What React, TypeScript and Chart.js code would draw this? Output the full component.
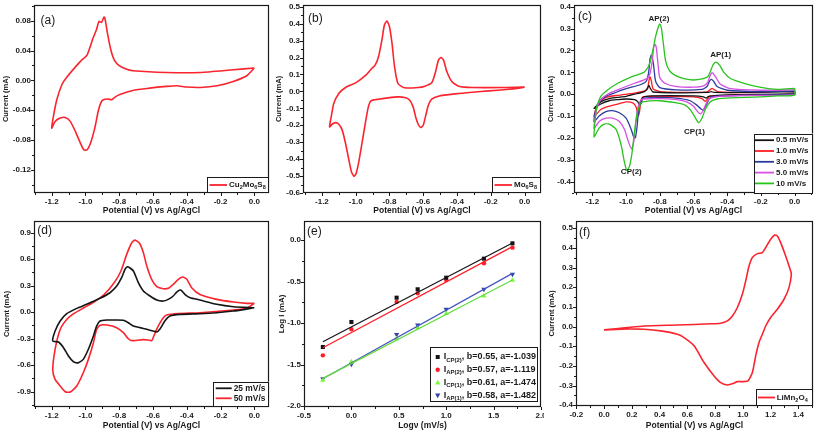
import React, { useEffect, useRef } from "react";
import { Chart, registerables } from "chart.js";
Chart.register(...registerables);

const FAM = "'Liberation Sans', Arial, Helvetica, sans-serif";
const INK = "#1a1a1a";
const RED = "rgb(250,36,46)";
const C_BLACK = "#151515";
const C_RED = "rgb(255,28,36)";
const C_BLUE = "rgb(43,60,158)";
const C_MAG = "rgb(214,80,226)";
const C_GREEN = "rgb(40,196,30)";

// ---------------- data ----------------
// (a) Cu2Mo6S8
const aV = [0, -0.125, -0.32, -0.52, -0.72, -0.76, -0.8, -0.83, -0.85, -0.87,
  -0.885, -0.89, -0.905, -0.92, -0.935, -0.955, -0.99, -1.03, -1.11, -1.14,
  -1.17, -1.19, -1.2, -1.18, -1.15, -1.12, -1.09, -1.06, -1.03, -1.01,
  -0.99, -0.97, -0.945, -0.925, -0.91, -0.895, -0.865, -0.845, -0.825, -0.8,
  -0.72, -0.62, -0.52, -0.46, -0.4, -0.32, -0.22, -0.125, -0.045, 0];
const aI = [0.0165, 0.0142, 0.0106, 0.0106, 0.0129, 0.0151, 0.0196, 0.0276, 0.041, 0.0634,
  0.0835, 0.0848, 0.0777, 0.079, 0.0679, 0.0567, 0.0343, 0.0254, 0.0044, -0.0059,
  -0.026, -0.0483, -0.064, -0.0551, -0.0506, -0.0497, -0.055, -0.0685, -0.0841, -0.0931,
  -0.0931, -0.0841, -0.064, -0.0417, -0.0305, -0.026, -0.0251, -0.026, -0.0224, -0.0193,
  -0.0135, -0.0104, -0.0081, -0.0072, -0.009, -0.0095, -0.0072, -0.0014, 0.0062, 0.0165];

// (b) Mo6S8
const bV = [0, -0.11, -0.31, -0.39, -0.43, -0.46, -0.48, -0.495, -0.51, -0.53,
  -0.55, -0.59, -0.63, -0.71, -0.75, -0.77, -0.785, -0.8, -0.815, -0.83,
  -0.845, -0.865, -0.885, -0.905, -0.94, -1.0, -1.06, -1.1, -1.13, -1.145,
  -1.155, -1.14, -1.12, -1.1, -1.08, -1.06, -1.04, -1.025, -1.01, -0.998,
  -0.98, -0.96, -0.94, -0.925, -0.91, -0.865, -0.81, -0.75, -0.71, -0.68,
  -0.66, -0.645, -0.63, -0.615, -0.6, -0.585, -0.57, -0.55, -0.51, -0.41,
  -0.31, -0.21, -0.11, -0.035, 0];
const bI = [0.025, 0.0229, 0.0229, 0.0308, 0.0564, 0.1156, 0.1846, 0.2004, 0.1846, 0.1057,
  0.0505, 0.0308, 0.0229, 0.0209, 0.0465, 0.1451, 0.2832, 0.3818, 0.4153, 0.3917,
  0.3029, 0.2043, 0.155, 0.1353, 0.0958, 0.0505, 0.0229, -0.0126, -0.0718, -0.1507,
  -0.2099, -0.194, -0.1842, -0.194, -0.2288, -0.3077, -0.407, -0.476, -0.5017, -0.4859,
  -0.407, -0.2887, -0.1704, -0.0915, -0.056, -0.0461, -0.0383, -0.0323, -0.0363, -0.052,
  -0.0915, -0.1507, -0.194, -0.2138, -0.1999, -0.141, -0.0816, -0.0461, -0.0284, -0.0146,
  -0.0047, 0.0032, 0.011, 0.0189, 0.025];

// (c) scan-rate series
const cGreenV = [0, -0.1, -0.2, -0.3, -0.38, -0.42, -0.445, -0.468, -0.485, -0.5,
  -0.515, -0.55, -0.6, -0.65, -0.7, -0.74, -0.765, -0.78, -0.79, -0.8,
  -0.81, -0.825, -0.845, -0.865, -0.895, -0.975, -1.05, -1.11, -1.15, -1.175,
  -1.19, -1.16, -1.13, -1.1, -1.06, -1.03, -1.01, -0.996, -0.98, -0.965,
  -0.95, -0.935, -0.915, -0.9, -0.8, -0.7, -0.65, -0.62, -0.595, -0.57,
  -0.55, -0.53, -0.5, -0.46, -0.38, -0.2, -0.1, 0, 0];
const cGreenI = [0.027, 0.022, 0.031, 0.05, 0.072, 0.1, 0.133, 0.147, 0.133, 0.103,
  0.08, 0.07, 0.065, 0.07, 0.083, 0.105, 0.15, 0.24, 0.3, 0.321,
  0.305, 0.263, 0.187, 0.13, 0.1, 0.077, 0.05, 0.019, -0.01, -0.06,
  -0.195, -0.155, -0.137, -0.137, -0.16, -0.23, -0.31, -0.348, -0.33, -0.27,
  -0.17, -0.09, -0.045, -0.035, -0.03, -0.04, -0.05, -0.07, -0.1, -0.13,
  -0.11, -0.07, -0.035, -0.022, -0.017, -0.012, -0.008, -0.004, 0.027];
const cMagV = [0, -0.2, -0.38, -0.44, -0.47, -0.488, -0.5, -0.515, -0.54, -0.6,
  -0.7, -0.77, -0.8, -0.812, -0.82, -0.828, -0.836, -0.845, -0.86, -0.88,
  -0.95, -1.05, -1.11, -1.15, -1.175, -1.19, -1.16, -1.12, -1.08, -1.04,
  -1.01, -0.985, -0.968, -0.955, -0.945, -0.932, -0.915, -0.9, -0.8, -0.7,
  -0.64, -0.6, -0.575, -0.557, -0.54, -0.52, -0.5, -0.45, -0.3, 0, 0];
const cMagI = [0.02, 0.018, 0.025, 0.045, 0.08, 0.098, 0.088, 0.055, 0.038, 0.032,
  0.035, 0.05, 0.075, 0.15, 0.21, 0.228, 0.215, 0.15, 0.09, 0.07,
  0.05, 0.02, 0.0, -0.025, -0.07, -0.156, -0.125, -0.11, -0.11, -0.125,
  -0.16, -0.22, -0.25, -0.22, -0.15, -0.07, -0.03, -0.022, -0.02, -0.025,
  -0.035, -0.055, -0.08, -0.09, -0.07, -0.035, -0.018, -0.01, -0.006, -0.002, 0.02];
const cBluV = [0, -0.2, -0.4, -0.46, -0.48, -0.492, -0.505, -0.52, -0.55, -0.7,
  -0.8, -0.825, -0.838, -0.85, -0.858, -0.866, -0.88, -0.92, -1.0, -1.07,
  -1.12, -1.16, -1.18, -1.19, -1.16, -1.12, -1.08, -1.04, -1.0, -0.97,
  -0.955, -0.945, -0.935, -0.925, -0.91, -0.89, -0.8, -0.7, -0.62, -0.58,
  -0.555, -0.54, -0.525, -0.505, -0.48, -0.3, 0, 0];
const cBluI = [0.015, 0.012, 0.018, 0.035, 0.058, 0.068, 0.06, 0.035, 0.022, 0.02,
  0.03, 0.06, 0.14, 0.179, 0.16, 0.1, 0.06, 0.042, 0.025, 0.005,
  -0.01, -0.035, -0.07, -0.126, -0.1, -0.08, -0.075, -0.085, -0.11, -0.16,
  -0.195, -0.2, -0.15, -0.07, -0.028, -0.018, -0.015, -0.018, -0.03, -0.05,
  -0.068, -0.072, -0.05, -0.02, -0.01, -0.005, 0.0, 0.015];
const cRedV = [0, -0.1, -0.2, -0.45, -0.48, -0.49, -0.5, -0.52, -0.6, -0.8,
  -0.84, -0.85, -0.858, -0.865, -0.872, -0.89, -0.95, -1.05, -1.12, -1.16,
  -1.18, -1.19, -1.15, -1.1, -1.05, -1.0, -0.96, -0.94, -0.928, -0.92,
  -0.912, -0.9, -0.8, -0.6, -0.55, -0.53, -0.515, -0.5, -0.3, 0, 0];
const cRedI = [0.01, 0.015, 0.008, 0.01, 0.022, 0.027, 0.022, 0.01, 0.008, 0.012,
  0.025, 0.06, 0.08, 0.06, 0.025, 0.015, 0.005, -0.005, -0.015, -0.04,
  -0.07, -0.103, -0.07, -0.055, -0.045, -0.035, -0.04, -0.06, -0.1, -0.08,
  -0.03, -0.012, -0.01, -0.012, -0.02, -0.033, -0.02, -0.008, -0.004, 0.0, 0.01];
const cBlkV = [0, -0.3, -0.48, -0.495, -0.51, -0.7, -0.84, -0.855, -0.865, -0.875,
  -0.89, -0.95, -1.0, -1.05, -1.1, -1.15, -1.19, -1.15, -1.1, -1.05,
  -1.0, -0.95, -0.93, -0.92, -0.91, -0.9, -0.85, -0.6, -0.54, -0.525,
  -0.51, -0.4, 0, 0];
const cBlkI = [0.012, 0.008, 0.008, 0.012, 0.008, 0.006, 0.01, 0.025, 0.04, 0.025,
  0.012, 0.0, -0.01, -0.015, -0.02, -0.035, -0.065, -0.045, -0.03, -0.025,
  -0.022, -0.025, -0.035, -0.052, -0.04, -0.015, -0.008, -0.008, -0.012, -0.018,
  -0.01, -0.003, 0.002, 0.012];
const cNoteText = ["AP(2)", "AP(1)", "CP(1)", "CP(2)"];
const cNoteV = [-0.805, -0.439, -0.594, -0.969];
const cNoteI = [0.347, 0.179, -0.171, -0.357];

// (d) 25 / 50 mV/s
const dRedV = [0, -0.046, -0.124, -0.223, -0.322, -0.371, -0.4, -0.424, -0.45, -0.48,
  -0.51, -0.539, -0.578, -0.608, -0.637, -0.657, -0.68, -0.707, -0.726, -0.756,
  -0.79, -0.83, -0.89, -0.95, -1.01, -1.07, -1.11, -1.15, -1.18, -1.194,
  -1.18, -1.15, -1.12, -1.09, -1.052, -1.013, -0.983, -0.953, -0.934, -0.914,
  -0.874, -0.815, -0.776, -0.746, -0.73, -0.7, -0.66, -0.63, -0.608, -0.595,
  -0.58, -0.558, -0.539, -0.519, -0.45, -0.322, -0.124, -0.046, 0];
const dRedI = [0.1, 0.1, 0.115, 0.145, 0.2, 0.277, 0.372, 0.398, 0.372, 0.315,
  0.27, 0.266, 0.289, 0.372, 0.523, 0.673, 0.78, 0.816, 0.786, 0.654,
  0.466, 0.334, 0.2, 0.115, 0.05, -0.017, -0.08, -0.195, -0.42, -0.655,
  -0.76, -0.836, -0.9, -0.904, -0.836, -0.685, -0.534, -0.345, -0.195, -0.149,
  -0.145, -0.175, -0.232, -0.3, -0.32, -0.32, -0.31, -0.315, -0.322, -0.27,
  -0.2, -0.119, -0.062, -0.032, -0.015, -0.006, 0.025, 0.045, 0.1];
const dBlkV = [0, -0.124, -0.223, -0.322, -0.38, -0.41, -0.436, -0.46, -0.48, -0.51,
  -0.54, -0.578, -0.618, -0.657, -0.687, -0.716, -0.736, -0.752, -0.766, -0.786,
  -0.815, -0.855, -0.914, -0.993, -1.052, -1.111, -1.15, -1.18, -1.194,
  -1.16, -1.13, -1.101, -1.072, -1.056, -1.042, -1.013, -0.983, -0.953, -0.934,
  -0.914, -0.874, -0.815, -0.776, -0.746, -0.716, -0.677, -0.637, -0.6, -0.578,
  -0.56, -0.53, -0.5, -0.44, -0.322, -0.223, -0.124, 0];
const dBlkI = [0.05, 0.062, 0.089, 0.138, 0.164, 0.2, 0.25, 0.228, 0.183, 0.145,
  0.126, 0.138, 0.183, 0.24, 0.334, 0.466, 0.5, 0.515, 0.485, 0.39,
  0.296, 0.22, 0.157, 0.089, 0.043, -0.017, -0.1, -0.213, -0.327,
  -0.338, -0.402, -0.496, -0.56, -0.572, -0.572, -0.534, -0.42, -0.27, -0.157,
  -0.1, -0.089, -0.089, -0.092, -0.119, -0.157, -0.175, -0.194, -0.213, -0.225,
  -0.194, -0.1, -0.043, -0.025, -0.017, -0.006, 0.013, 0.05];

// (e) log I vs log v
const eLogV = [-0.301, 0, 0.477, 0.699, 1, 1.398, 1.699];
const eCP2 = [-1.289, -0.988, -0.695, -0.594, -0.454, -0.225, -0.04];
const eAP2 = [-1.39, -1.076, -0.747, -0.643, -0.482, -0.281, -0.092];
const eCP1 = [-1.691, -1.466, -1.189, -1.056, -0.884, -0.675, -0.486];
const eAP1 = [-1.671, -1.498, -1.137, -1.024, -0.835, -0.594, -0.414];
const eFitX = [-0.301, 1.699];
const eFitCP2 = [-1.225, -0.035];
const eFitAP2 = [-1.297, -0.08];
const eFitCP1 = [-1.667, -0.482];
const eFitAP1 = [-1.671, -0.402];

// (f) LiMn2O4
const fV = [0, 0.168, 0.288, 0.529, 0.769, 0.841, 0.889, 0.925, 0.961, 0.997,
  1.021, 1.045, 1.069, 1.105, 1.141, 1.165, 1.201, 1.23, 1.249, 1.273,
  1.309, 1.341, 1.35, 1.333, 1.297, 1.249, 1.201, 1.165, 1.141, 1.117,
  1.093, 1.069, 1.038, 1.0, 0.96, 0.93, 0.889, 0.841, 0.793, 0.721,
  0.649, 0.577, 0.529, 0.408, 0.288, 0.168, 0];
const fI = [-0.017, -0.005, 0.003, 0.008, 0.014, 0.017, 0.029, 0.054, 0.097, 0.164,
  0.232, 0.308, 0.351, 0.371, 0.376, 0.402, 0.444, 0.466, 0.461, 0.427,
  0.359, 0.292, 0.266, 0.198, 0.139, 0.088, 0.046, 0.003, -0.039, -0.081,
  -0.149, -0.234, -0.276, -0.28, -0.28, -0.29, -0.297, -0.285, -0.251, -0.183,
  -0.098, -0.056, -0.039, -0.022, -0.014, -0.012, -0.017];

// tick values
const cvXTicks = [-1.2, -1.0, -0.8, -0.6, -0.4, -0.2, 0.0];
const aYTicks = [-0.12, -0.08, -0.04, 0, 0.04, 0.08];
const bYTicks = [-0.6, -0.5, -0.4, -0.3, -0.2, -0.1, 0, 0.1, 0.2, 0.3, 0.4, 0.5];
const cYTicks = [-0.4, -0.3, -0.2, -0.1, 0, 0.1, 0.2, 0.3, 0.4];
const dYTicks = [-0.9, -0.6, -0.3, 0, 0.3, 0.6, 0.9];
const eXTicks = [-0.5, 0, 0.5, 1.0, 1.5, 2.0];
const eYTicks = [-2.0, -1.5, -1.0, -0.5, 0];
const fXTicks = [-0.2, 0, 0.2, 0.4, 0.6, 0.8, 1.0, 1.2, 1.4];
const fYTicks = [-0.4, -0.3, -0.2, -0.1, 0, 0.1, 0.2, 0.3, 0.4, 0.5];

const X_CV = "Potential (V) vs Ag/AgCl";
const Y_CV = "Current (mA)";

// ---------------- helpers ----------------
type Seg = { t: string; sub?: boolean };
type LegItem = { segs: Seg[]; color: string; kind: string };
type LegSpec = {
  items: LegItem[]; size: number; subSize: number; rowH: number; firstRow: number;
  boxH: number; offR: number; offB: number; sx0: number; sx1: number; tx: number; padR: number;
};
type Decor = {
  label: string; ldx: number; ldy: number;
  legend: LegSpec;
  notes?: { text: string[]; x: number[]; y: number[] };
};

const zip = (xs: number[], ys: number[]) => xs.map((x, i) => ({ x, y: ys[i] }));

function richWidth(ctx: CanvasRenderingContext2D, segs: Seg[], size: number, sub: number) {
  let w = 0;
  for (const s of segs) {
    ctx.font = `bold ${s.sub ? sub : size}px ${FAM}`;
    w += ctx.measureText(s.t).width;
  }
  return w;
}
function drawRich(ctx: CanvasRenderingContext2D, segs: Seg[], x: number, y: number, size: number, sub: number) {
  ctx.textAlign = "left";
  ctx.textBaseline = "middle";
  for (const s of segs) {
    ctx.font = `bold ${s.sub ? sub : size}px ${FAM}`;
    ctx.fillText(s.t, x, s.sub ? y + size * 0.32 : y);
    x += ctx.measureText(s.t).width;
  }
}
function drawMarker(ctx: CanvasRenderingContext2D, kind: string, x: number, y: number, color: string) {
  ctx.fillStyle = color;
  ctx.beginPath();
  if (kind === "rect") ctx.rect(x - 2, y - 2, 4, 4);
  else if (kind === "circle") ctx.arc(x, y, 2.2, 0, Math.PI * 2);
  else if (kind === "tri") { ctx.moveTo(x, y - 2.8); ctx.lineTo(x + 2.6, y + 1.8); ctx.lineTo(x - 2.6, y + 1.8); ctx.closePath(); }
  else if (kind === "dtri") { ctx.moveTo(x, y + 2.8); ctx.lineTo(x + 2.6, y - 1.8); ctx.lineTo(x - 2.6, y - 1.8); ctx.closePath(); }
  ctx.fill();
}

function minorOf(ticks: number[], min: number, max: number) {
  const out: number[] = [];
  for (let i = 0; i < ticks.length - 1; i++) out.push((ticks[i] + ticks[i + 1]) / 2);
  const st = ticks[1] - ticks[0];
  const lo = ticks[0] - st / 2, hi = ticks[ticks.length - 1] + st / 2;
  if (lo >= min) out.push(lo);
  if (hi <= max) out.push(hi);
  return out;
}

function makeDecor(d: Decor) {
  return {
    id: "decor",
    afterDraw(chart: any) {
      const { ctx, chartArea: ca, scales } = chart;
      const L = Math.round(ca.left), R = Math.round(ca.right), T = Math.round(ca.top), B = Math.round(ca.bottom);
      ctx.save();
      ctx.strokeStyle = INK;
      ctx.lineWidth = 1;
      const xs = scales.x, ys = scales.y;
      const xt = xs.ticks.map((t: any) => t.value), yt = ys.ticks.map((t: any) => t.value);
      const tick = (vals: number[], len: number, horiz: boolean) => {
        for (const v of vals) {
          ctx.beginPath();
          if (horiz) {
            const p = Math.round(xs.getPixelForValue(v)) + 0.5;
            ctx.moveTo(p, B); ctx.lineTo(p, B + len);
          } else {
            const p = Math.round(ys.getPixelForValue(v)) + 0.5;
            ctx.moveTo(L, p); ctx.lineTo(L - len, p);
          }
          ctx.stroke();
        }
      };
      tick(xt, 3, true);
      tick(minorOf(xt, xs.min, xs.max), 2, true);
      tick(yt, 3, false);
      tick(minorOf(yt, ys.min, ys.max), 2, false);
      // frame
      ctx.lineWidth = 1.2;
      ctx.strokeRect(L + 0.5, T + 0.5, R - L - 1, B - T - 1);
      ctx.lineWidth = 1;
      // panel label
      ctx.fillStyle = INK;
      ctx.font = `12px ${FAM}`;
      ctx.textAlign = "left";
      ctx.textBaseline = "middle";
      ctx.fillText(d.label, L + d.ldx, T + d.ldy);
      // notes
      if (d.notes) {
        ctx.font = `bold 8px ${FAM}`;
        ctx.textAlign = "center";
        d.notes.text.forEach((t, i) => {
          ctx.fillText(t, xs.getPixelForValue(d.notes!.x[i]), ys.getPixelForValue(d.notes!.y[i]));
        });
      }
      // legend
      const lg = d.legend;
      let tw = 0;
      for (const it of lg.items) tw = Math.max(tw, richWidth(ctx, it.segs, lg.size, lg.subSize));
      const bw = Math.round(lg.tx + tw + lg.padR);
      const bx = R - lg.offR - bw, by = B - lg.offB - lg.boxH;
      ctx.fillStyle = "#fff";
      ctx.fillRect(bx, by, bw, lg.boxH);
      ctx.strokeStyle = INK;
      ctx.strokeRect(Math.round(bx) + 0.5, Math.round(by) + 0.5, bw - 1, Math.round(lg.boxH) - 1);
      lg.items.forEach((it, i) => {
        const cy = by + lg.firstRow + i * lg.rowH;
        if (it.kind === "line") {
          ctx.strokeStyle = it.color;
          ctx.lineWidth = 1.8;
          ctx.beginPath();
          ctx.moveTo(bx + lg.sx0, cy); ctx.lineTo(bx + lg.sx1, cy);
          ctx.stroke();
        } else {
          drawMarker(ctx, it.kind, bx + lg.sx0, cy, it.color);
        }
        ctx.fillStyle = INK;
        drawRich(ctx, it.segs, bx + lg.tx, cy, lg.size, lg.subSize);
      });
      ctx.restore();
    },
  };
}

type AxisSpec = { min: number; max: number; ticks: number[]; dec: number; title: string; tsize: number; tpad: number };
function buildAxis(a: AxisSpec, horizontal: boolean, size: number) {
  return {
    type: "linear",
    position: horizontal ? "bottom" : "left",
    min: a.min,
    max: a.max,
    afterBuildTicks: (s: any) => { s.ticks = a.ticks.map((value) => ({ value })); },
    afterFit: (s: any) => {
      if (horizontal) s.height = size; else s.width = size;
      s.paddingLeft = 0; s.paddingRight = 0; s.paddingTop = 0; s.paddingBottom = 0;
    },
    grid: { display: false, drawTicks: false },
    border: { display: false },
    ticks: {
      autoSkip: false, maxRotation: 0, minRotation: 0,
      padding: horizontal ? 4 : 3,
      color: INK,
      font: { family: FAM, size: 8, weight: "bold" },
      callback: (v: any) => Number(v).toFixed(a.dec),
    },
    title: {
      display: true, text: a.title, color: INK,
      font: { family: FAM, size: a.tsize, weight: "bold" },
      padding: horizontal ? { top: 0, bottom: a.tpad } : { top: a.tpad, bottom: 0 },
    },
  };
}

type PanelSpec = {
  box: number[]; yW: number; xH: number; padR: number; padT: number;
  x: AxisSpec; y: AxisSpec; datasets: any[]; decor: Decor;
};

function cvLine(xs: number[], ys: number[], color: string, w = 1.6) {
  return {
    data: zip(xs, ys), showLine: true, borderColor: color, backgroundColor: color,
    borderWidth: w, pointRadius: 0, tension: 0.2, borderJoinStyle: "round",
  };
}

const leg1 = (segs: Seg[], color: string, padR: number): LegSpec => ({
  items: [{ segs, color, kind: "line" }], size: 8, subSize: 5.5, rowH: 0, firstRow: 8,
  boxH: 16, offR: 0, offB: 0, sx0: 2.5, sx1: 20, tx: 22, padR,
});

const panels: PanelSpec[] = [
  {
    box: [0, 0, 272, 216], yW: 34, xH: 23, padR: 3, padT: 5,
    x: { min: -1.305, max: 0.087, ticks: cvXTicks, dec: 1, title: X_CV, tsize: 8.5, tpad: 0 },
    y: { min: -0.151, max: 0.101, ticks: aYTicks, dec: 2, title: Y_CV, tsize: 7.5, tpad: 1 },
    datasets: [cvLine(aV, aI, RED)],
    decor: {
      label: "(a)", ldx: 6.5, ldy: 16,
      legend: leg1([{ t: "Cu" }, { t: "2", sub: true }, { t: "Mo" }, { t: "6", sub: true }, { t: "S" }, { t: "8", sub: true }], RED, 3),
    },
  },
  {
    box: [272, 0, 272, 216], yW: 31, xH: 23, padR: 3, padT: 5,
    x: { min: -1.312, max: 0.097, ticks: cvXTicks, dec: 1, title: X_CV, tsize: 8.5, tpad: 0 },
    y: { min: -0.6, max: 0.51, ticks: bYTicks, dec: 1, title: Y_CV, tsize: 7.5, tpad: 2 },
    datasets: [cvLine(bV, bI, RED)],
    decor: {
      label: "(b)", ldx: 5, ldy: 14,
      legend: leg1([{ t: "Mo" }, { t: "6", sub: true }, { t: "S" }, { t: "8", sub: true }], RED, 4),
    },
  },
  {
    box: [544, 0, 273, 216], yW: 30, xH: 23, padR: 4, padT: 5,
    x: { min: -1.309, max: 0.109, ticks: cvXTicks, dec: 1, title: X_CV, tsize: 8.5, tpad: 0 },
    y: { min: -0.452, max: 0.408, ticks: cYTicks, dec: 1, title: Y_CV, tsize: 7.5, tpad: 2 },
    datasets: [
      cvLine(cGreenV, cGreenI, C_GREEN, 1.3),
      cvLine(cMagV, cMagI, C_MAG, 1.3),
      cvLine(cBluV, cBluI, C_BLUE, 1.3),
      cvLine(cBlkV, cBlkI, C_BLACK, 1.3),
      cvLine(cRedV, cRedI, C_RED, 1.3),
    ],
    decor: {
      label: "(c)", ldx: 4, ldy: 11.5,
      notes: { text: cNoteText, x: cNoteV, y: cNoteI },
      legend: {
        items: [
          { segs: [{ t: "0.5 mV/s" }], color: C_BLACK, kind: "line" },
          { segs: [{ t: "1.0 mV/s" }], color: C_RED, kind: "line" },
          { segs: [{ t: "3.0 mV/s" }], color: C_BLUE, kind: "line" },
          { segs: [{ t: "5.0 mV/s" }], color: C_MAG, kind: "line" },
          { segs: [{ t: "10 mV/s" }], color: C_GREEN, kind: "line" },
        ],
        size: 8, subSize: 5.5, rowH: 10.8, firstRow: 6.7, boxH: 59.5,
        offR: 0, offB: 0, sx0: 1, sx1: 20, tx: 22, padR: 5,
      },
    },
  },
  {
    box: [0, 216, 272, 217], yW: 34, xH: 26, padR: 3, padT: 5,
    x: { min: -1.305, max: 0.087, ticks: cvXTicks, dec: 1, title: X_CV, tsize: 8.5, tpad: 2.6 },
    y: { min: -1.073, max: 1.032, ticks: dYTicks, dec: 1, title: Y_CV, tsize: 7.5, tpad: 2 },
    datasets: [cvLine(dBlkV, dBlkI, C_BLACK), cvLine(dRedV, dRedI, RED)],
    decor: {
      label: "(d)", ldx: 3.3, ldy: 10,
      legend: {
        items: [
          { segs: [{ t: "25 mV/s" }], color: C_BLACK, kind: "line" },
          { segs: [{ t: "50 mV/s" }], color: RED, kind: "line" },
        ],
        size: 8.4, subSize: 5.5, rowH: 10, firstRow: 6.6, boxH: 25.3,
        offR: 0, offB: 0, sx0: 2.7, sx1: 18.7, tx: 20.7, padR: 4,
      },
    },
  },
  {
    box: [272, 216, 272, 217], yW: 32, xH: 26, padR: 3, padT: 5,
    x: { min: -0.5, max: 2.0, ticks: eXTicks, dec: 1, title: "Log\u03bd (mV/s)", tsize: 8.5, tpad: 2.6 },
    y: { min: -2.012, max: 0.229, ticks: eYTicks, dec: 1, title: "Log I (mA)", tsize: 7.8, tpad: 5.3 },
    datasets: [
      { data: zip(eFitX, eFitCP2), showLine: true, borderColor: C_BLACK, borderWidth: 1.2, pointRadius: 0 },
      { data: zip(eFitX, eFitAP2), showLine: true, borderColor: C_RED, borderWidth: 1.2, pointRadius: 0 },
      { data: zip(eFitX, eFitCP1), showLine: true, borderColor: "rgb(100,220,60)", borderWidth: 1.2, pointRadius: 0 },
      { data: zip(eFitX, eFitAP1), showLine: true, borderColor: "rgb(70,84,190)", borderWidth: 1.2, pointRadius: 0 },
      { data: zip(eLogV, eCP2), pointStyle: "rect", pointRadius: 2.9, backgroundColor: C_BLACK, borderWidth: 0 },
      { data: zip(eLogV, eAP2), pointStyle: "circle", pointRadius: 2.2, backgroundColor: C_RED, borderWidth: 0 },
      { data: zip(eLogV, eCP1), pointStyle: "triangle", pointRadius: 3, backgroundColor: "rgb(120,250,60)", borderWidth: 0 },
      { data: zip(eLogV, eAP1), pointStyle: "triangle", pointRotation: 180, pointRadius: 3, backgroundColor: "rgb(50,64,170)", borderWidth: 0 },
    ],
    decor: {
      label: "(e)", ldx: 3, ldy: 11,
      legend: {
        items: [
          { segs: [{ t: "I" }, { t: "CP(2)", sub: true }, { t: ", b=0.55, a=-1.039" }], color: C_BLACK, kind: "rect" },
          { segs: [{ t: "I" }, { t: "AP(2)", sub: true }, { t: ", b=0.57, a=-1.119" }], color: C_RED, kind: "circle" },
          { segs: [{ t: "I" }, { t: "CP(1)", sub: true }, { t: ", b=0.61, a=-1.474" }], color: "rgb(120,250,60)", kind: "tri" },
          { segs: [{ t: "I" }, { t: "AP(1)", sub: true }, { t: ", b=0.58, a=-1.482" }], color: "rgb(50,64,170)", kind: "dtri" },
        ],
        size: 9, subSize: 6, rowH: 12.8, firstRow: 10, boxH: 55,
        offR: 2.7, offB: 5, sx0: 7.4, sx1: 7.4, tx: 13.4, padR: 2,
      },
    },
  },
  {
    box: [544, 216, 273, 217], yW: 32, xH: 27, padR: 4, padT: 5,
    x: { min: -0.202, max: 1.506, ticks: fXTicks, dec: 1, title: X_CV, tsize: 8.5, tpad: 2.6 },
    y: { min: -0.404, max: 0.537, ticks: fYTicks, dec: 1, title: Y_CV, tsize: 7.5, tpad: 3 },
    datasets: [cvLine(fV, fI, RED)],
    decor: {
      label: "(f)", ldx: 3, ldy: 11.7,
      legend: { ...leg1([{ t: "LiMn" }, { t: "2", sub: true }, { t: "O" }, { t: "4", sub: true }], RED, 5), boxH: 17, sx0: 2, sx1: 19, tx: 20.7, firstRow: 8.5 },
    },
  },
];

function makeConfig(p: PanelSpec): any {
  return {
    type: "scatter",
    data: { datasets: p.datasets },
    options: {
      responsive: false,
      animation: false,
      devicePixelRatio: 1,
      events: [],
      layout: { padding: { left: 0, right: p.padR, top: p.padT, bottom: 0 }, autoPadding: false },
      plugins: { legend: { display: false }, tooltip: { enabled: false } },
      scales: { x: buildAxis(p.x, true, p.xH), y: buildAxis(p.y, false, p.yW) },
    },
    plugins: [makeDecor(p.decor)],
  };
}

function Panel({ spec }: { spec: PanelSpec }) {
  const ref = useRef<HTMLCanvasElement>(null);
  useEffect(() => {
    const chart = new Chart(ref.current as HTMLCanvasElement, makeConfig(spec));
    return () => chart.destroy();
  }, [spec]);
  const [l, t, w, h] = spec.box;
  return (
    <canvas
      ref={ref}
      width={w}
      height={h}
      style={{ position: "absolute", left: l, top: t, width: w, height: h }}
    />
  );
}

export default function App() {
  return (
    <div style={{ position: "absolute", left: 0, top: 0, width: 817, height: 433, background: "#fff", overflow: "hidden" }}>
      {panels.map((p, i) => (
        <Panel key={i} spec={p} />
      ))}
    </div>
  );
}
